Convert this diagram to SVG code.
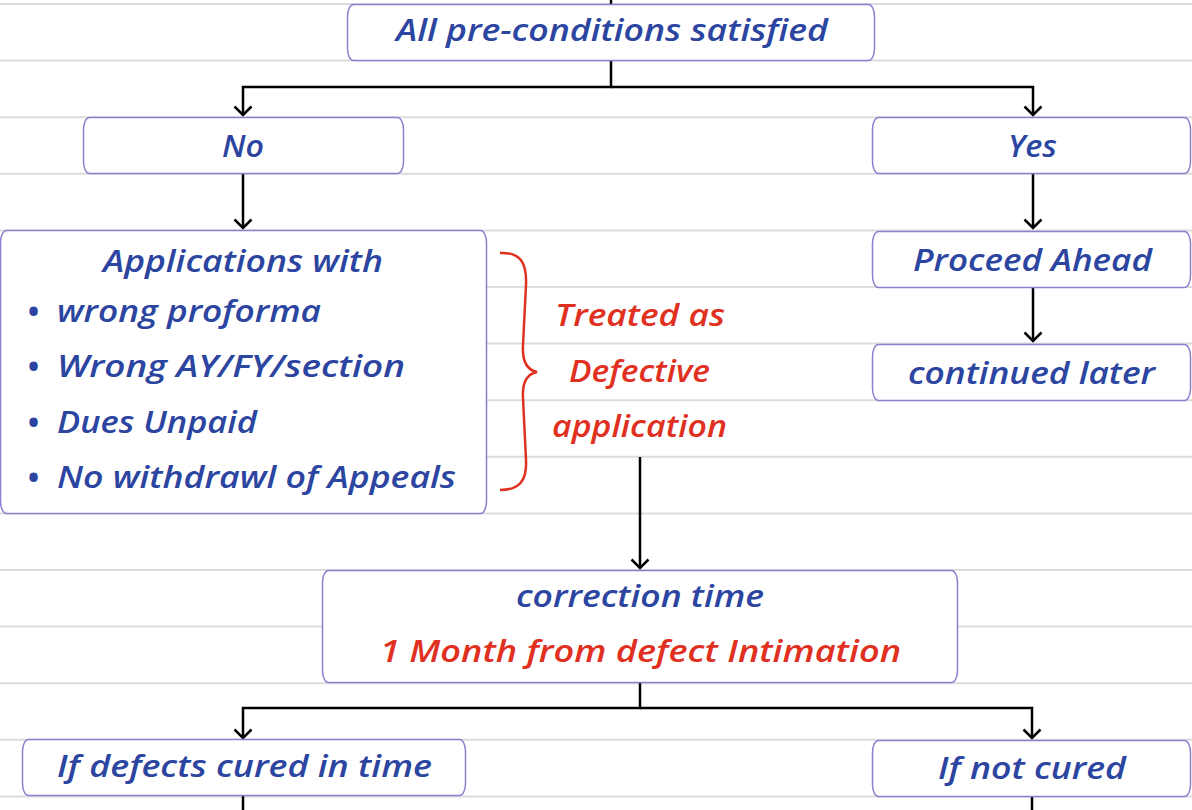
<svg xmlns="http://www.w3.org/2000/svg" width="1192" height="810" viewBox="0 0 1192 810">
<defs>
<style>
.rule{stroke:#dcdcdc;stroke-width:2}
.box{fill:#fff;stroke:#8a7fd0;stroke-width:1.5}
.t{font-family:"Open Sans","Noto Sans",sans-serif;font-style:italic;font-weight:600;font-size:30px;fill:#2b45a0}
.b{font-family:"Open Sans","Noto Sans",sans-serif;font-size:40px;fill:#2b45a0}
.r{fill:#e0301f}
.c{text-anchor:middle}
.con{fill:none;stroke:#000;stroke-width:2.5}
</style>
<marker id="arr" viewBox="0 0 20 20" refX="18" refY="10" markerWidth="20" markerHeight="20" markerUnits="userSpaceOnUse" orient="auto">
<path d="M9.5,1.5 L18,10 L9.5,18.5" fill="none" stroke="#000" stroke-width="2.5"/>
</marker>
</defs>
<rect width="1192" height="810" fill="#fff"/>
<g id="ruled-lines">
<line class="rule" x1="0" y1="4" x2="1192" y2="4"/>
<line class="rule" x1="0" y1="60.6" x2="1192" y2="60.6"/>
<line class="rule" x1="0" y1="117.2" x2="1192" y2="117.2"/>
<line class="rule" x1="0" y1="173.8" x2="1192" y2="173.8"/>
<line class="rule" x1="0" y1="230.4" x2="1192" y2="230.4"/>
<line class="rule" x1="0" y1="287" x2="1192" y2="287"/>
<line class="rule" x1="0" y1="343.6" x2="1192" y2="343.6"/>
<line class="rule" x1="0" y1="400.2" x2="1192" y2="400.2"/>
<line class="rule" x1="0" y1="456.8" x2="1192" y2="456.8"/>
<line class="rule" x1="0" y1="513.4" x2="1192" y2="513.4"/>
<line class="rule" x1="0" y1="570" x2="1192" y2="570"/>
<line class="rule" x1="0" y1="626.6" x2="1192" y2="626.6"/>
<line class="rule" x1="0" y1="683.2" x2="1192" y2="683.2"/>
<line class="rule" x1="0" y1="739.8" x2="1192" y2="739.8"/>
<line class="rule" x1="0" y1="796.4" x2="1192" y2="796.4"/>
</g>
<g id="connectors">
<path class="con" d="M611,-2 V4"/>
<path class="con" d="M611,61 V87 H243 V115" marker-end="url(#arr)"/>
<path class="con" d="M611,87 H1033 V115" marker-end="url(#arr)"/>
<path class="con" d="M243,174 V228" marker-end="url(#arr)"/>
<path class="con" d="M1033,174 V228" marker-end="url(#arr)"/>
<path class="con" d="M1033,287 V341" marker-end="url(#arr)"/>
<path class="con" d="M640,457 V568" marker-end="url(#arr)"/>
<path class="con" d="M640,683 V708 H243 V738" marker-end="url(#arr)"/>
<path class="con" d="M640,708 H1032 V738" marker-end="url(#arr)"/>
<path class="con" d="M243,796 V812"/>
<path class="con" d="M1032,796 V812"/>
</g>
<g id="n-preconditions">
<rect class="box" x="347.5" y="4.5" width="527" height="56" rx="6" ry="12"/>
<text class="t c" x="612" y="41" textLength="432" lengthAdjust="spacingAndGlyphs">All pre-conditions satisfied</text>
</g>
<g id="n-no">
<rect class="box" x="83.5" y="117.5" width="320" height="56" rx="6" ry="12"/>
<text class="t c" x="243" y="157" textLength="42" lengthAdjust="spacingAndGlyphs">No</text>
</g>
<g id="n-yes">
<rect class="box" x="872.5" y="117.5" width="318" height="56" rx="6" ry="12"/>
<text class="t c" x="1032.5" y="157" textLength="49" lengthAdjust="spacingAndGlyphs">Yes</text>
</g>
<g id="n-applications">
<rect class="box" x="0.5" y="230.5" width="486" height="283" rx="6" ry="12"/>
<text class="t c" x="243" y="272" textLength="280" lengthAdjust="spacingAndGlyphs">Applications with</text>
<text class="b" x="26" y="326">•</text>
<text class="t" x="57" y="322" textLength="264" lengthAdjust="spacingAndGlyphs">wrong proforma</text>
<text class="b" x="26" y="381">•</text>
<text class="t" x="57" y="377" textLength="348" lengthAdjust="spacingAndGlyphs">Wrong AY/FY/section</text>
<text class="b" x="26" y="437">•</text>
<text class="t" x="57" y="433" textLength="200" lengthAdjust="spacingAndGlyphs">Dues Unpaid</text>
<text class="b" x="26" y="492">•</text>
<text class="t" x="57" y="488" textLength="399" lengthAdjust="spacingAndGlyphs">No withdrawl of Appeals</text>
</g>
<g id="n-defective">
<path d="M500,253 C520,252 527,262 526,285 L523,345 C522,362 527,370 537,372 C527,374 522,382 523,398 L526,460 C527,480 520,490 500,490" fill="none" stroke="#e0301f" stroke-width="2.5"/>
<text class="t r c" x="640" y="326" textLength="170" lengthAdjust="spacingAndGlyphs">Treated as</text>
<text class="t r c" x="639.5" y="382" textLength="141" lengthAdjust="spacingAndGlyphs">Defective</text>
<text class="t r c" x="639.5" y="437" textLength="175" lengthAdjust="spacingAndGlyphs">application</text>
</g>
<g id="n-proceed">
<rect class="box" x="872.5" y="231.5" width="318" height="56" rx="6" ry="12"/>
<text class="t c" x="1032.5" y="271" textLength="239" lengthAdjust="spacingAndGlyphs">Proceed Ahead</text>
</g>
<g id="n-continued">
<rect class="box" x="872.5" y="344.5" width="318" height="56" rx="6" ry="12"/>
<text class="t c" x="1031.5" y="384" textLength="247" lengthAdjust="spacingAndGlyphs">continued later</text>
</g>
<g id="n-correction">
<rect class="box" x="322.5" y="570.5" width="635" height="112" rx="6" ry="12"/>
<text class="t c" x="640" y="607" textLength="248" lengthAdjust="spacingAndGlyphs">correction time</text>
<text class="t r c" x="640.5" y="662" textLength="521" lengthAdjust="spacingAndGlyphs">1 Month from defect Intimation</text>
</g>
<g id="n-cured">
<rect class="box" x="22.5" y="739.5" width="443" height="56" rx="6" ry="12"/>
<text class="t c" x="244.5" y="777" textLength="375" lengthAdjust="spacingAndGlyphs">If defects cured in time</text>
</g>
<g id="n-notcured">
<rect class="box" x="872.5" y="740.5" width="318" height="56" rx="6" ry="12"/>
<text class="t c" x="1032" y="779" textLength="188" lengthAdjust="spacingAndGlyphs">If not cured</text>
</g>
</svg>
